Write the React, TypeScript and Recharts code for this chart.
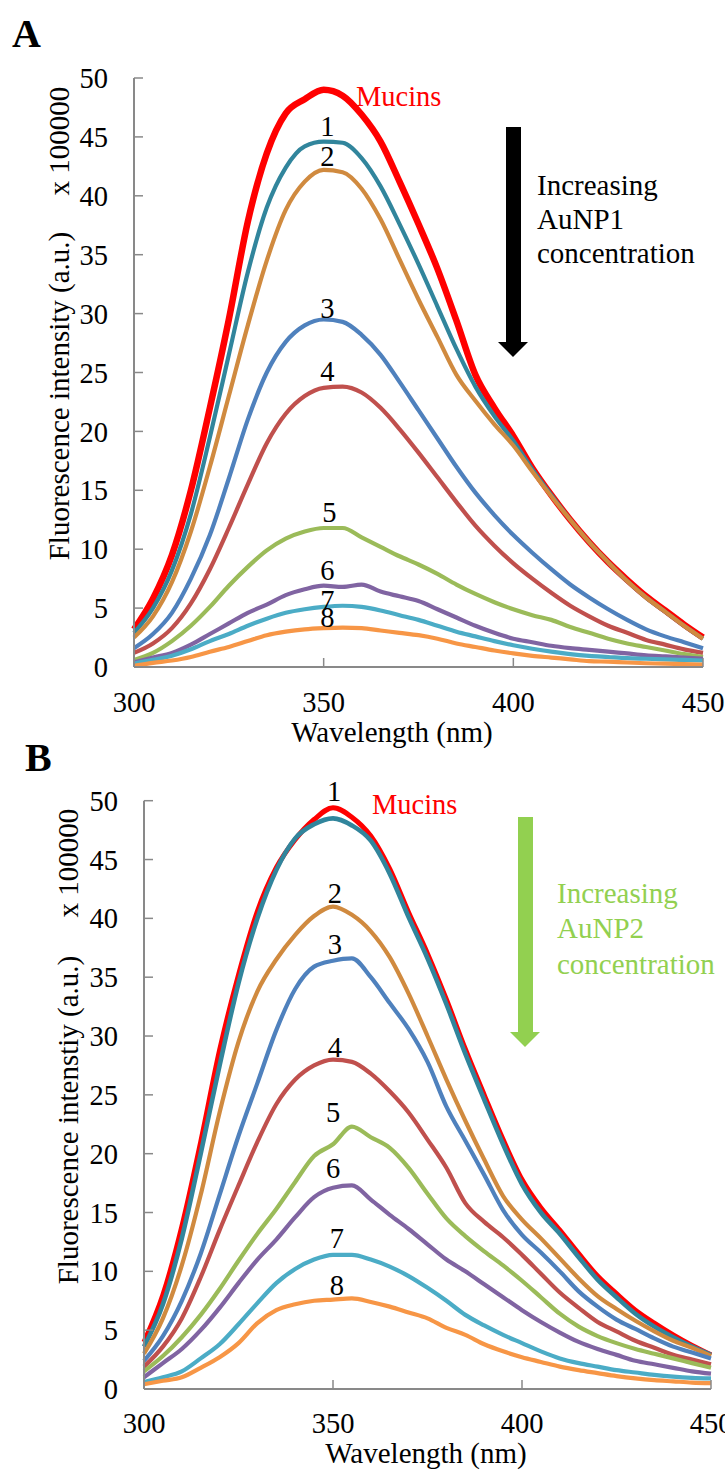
import { LineChart, Line, XAxis, YAxis, ReferenceDot } from 'recharts';

const FONT = '"Liberation Serif", "Times New Roman", serif';

// Shared x values (nm)
const wavelengths = [
  300, 305, 310, 315, 320, 325, 330, 335, 340, 345, 350, 355, 360, 365, 370, 375,
  380, 385, 390, 395, 400, 405, 410, 415, 420, 425, 430, 435, 440, 445, 450,
];
const yTicks = [0, 5, 10, 15, 20, 25, 30, 35, 40, 45, 50];
const xTicks = [300, 350, 400, 450];

// Panel A - AuNP1 titration (x 100000 a.u.)
const mucinsA = [3.2, 5.8, 9.5, 15.0, 22.0, 29.5, 37.8, 43.6, 47.0, 48.2, 49.0, 48.5, 46.9, 44.6, 41.2, 37.6, 33.8, 29.4, 24.8, 22.0, 19.6, 16.9, 14.6, 12.5, 10.6, 8.9, 7.4, 6.0, 4.8, 3.6, 2.5];
const a1 = [2.9, 5.0, 8.2, 13.0, 19.5, 26.5, 33.5, 39.0, 42.4, 44.2, 44.6, 44.5, 43.2, 40.8, 37.6, 34.2, 30.6, 27.0, 23.8, 21.3, 19.2, 16.8, 14.6, 12.5, 10.6, 8.9, 7.3, 5.9, 4.7, 3.5, 2.4];
const a2 = [2.5, 4.3, 7.2, 11.5, 17.0, 23.0, 29.0, 34.5, 38.8, 41.2, 42.2, 42.0, 40.6, 38.0, 34.6, 31.2, 28.0, 24.8, 22.6, 20.6, 18.8, 16.6, 14.5, 12.5, 10.6, 8.9, 7.3, 5.9, 4.7, 3.5, 2.4];
const a3 = [1.6, 2.8, 4.6, 7.5, 11.2, 16.0, 21.0, 25.0, 27.6, 29.0, 29.5, 29.3, 28.2, 26.5, 24.2, 21.8, 19.4, 17.0, 14.8, 12.9, 11.2, 9.7, 8.3, 7.0, 5.9, 4.9, 4.0, 3.2, 2.6, 2.1, 1.6];
const a4 = [1.2, 2.0, 3.3, 5.4, 8.3, 11.8, 15.5, 19.0, 21.5, 23.0, 23.7, 23.8, 23.3, 22.0, 20.2, 18.2, 16.1, 14.0, 12.0, 10.3, 8.8, 7.5, 6.3, 5.2, 4.3, 3.5, 2.9, 2.3, 1.9, 1.5, 1.2];
const a5 = [0.6, 1.2, 2.2, 3.5, 5.1, 6.9, 8.5, 9.9, 10.9, 11.5, 11.8, 11.8, 11.0, 10.2, 9.4, 8.7, 7.9, 7.0, 6.2, 5.5, 4.9, 4.4, 4.0, 3.4, 2.9, 2.4, 2.0, 1.7, 1.4, 1.1, 0.85];
const a6 = [0.4, 0.8, 1.2, 1.9, 2.8, 3.7, 4.6, 5.3, 6.1, 6.6, 6.9, 6.8, 7.0, 6.4, 6.0, 5.6, 4.9, 4.2, 3.5, 2.9, 2.4, 2.1, 1.8, 1.6, 1.45, 1.3, 1.15, 1.0, 0.9, 0.8, 0.7];
const a7 = [0.3, 0.6, 0.95, 1.5, 2.2, 2.8, 3.5, 4.1, 4.6, 4.9, 5.1, 5.2, 5.1, 4.8, 4.4, 4.0, 3.5, 3.0, 2.6, 2.2, 1.85, 1.55, 1.3, 1.1, 0.95, 0.85, 0.75, 0.7, 0.65, 0.6, 0.55];
const a8 = [0.1, 0.35, 0.55, 0.85, 1.3, 1.7, 2.2, 2.7, 3.0, 3.2, 3.3, 3.35, 3.3, 3.1, 2.9, 2.7, 2.4, 2.0, 1.7, 1.4, 1.15, 0.95, 0.8, 0.65, 0.5, 0.45, 0.38, 0.32, 0.28, 0.24, 0.2];

// Panel B - AuNP2 titration
const mucinsB = [4.0, 8.0, 13.8, 21.0, 28.8, 35.2, 40.6, 44.3, 46.7, 48.4, 49.4, 48.6, 47.0, 44.2, 40.5, 37.0, 33.1, 28.9, 25.0, 21.2, 17.8, 15.4, 13.5, 11.5, 9.6, 8.1, 6.7, 5.6, 4.6, 3.7, 2.9];
const b1 = [3.6, 7.2, 12.8, 20.0, 27.5, 34.5, 40.0, 44.1, 46.8, 48.0, 48.5, 47.9, 46.6, 43.8, 40.1, 36.6, 32.7, 28.5, 24.6, 20.8, 17.4, 15.0, 13.2, 11.2, 9.3, 7.8, 6.4, 5.3, 4.4, 3.6, 2.9];
const b2 = [3.0, 6.0, 10.5, 16.5, 23.5, 29.5, 33.8, 36.5, 38.6, 40.2, 41.0, 40.3, 38.9, 36.7, 33.6, 30.0, 26.3, 22.8, 19.5, 16.4, 14.4, 12.8, 11.1, 9.4, 7.9, 6.8, 5.8, 4.9, 4.1, 3.5, 2.8];
const b3 = [2.4, 4.5, 7.5, 11.5, 16.5, 21.5, 26.0, 30.5, 34.0, 35.9, 36.4, 36.6, 35.0, 32.8, 30.6, 27.8, 24.0, 21.1, 18.2, 15.2, 13.1, 11.6, 10.0, 8.3, 7.0, 5.9, 5.1, 4.3, 3.6, 3.1, 2.6];
const b4 = [1.9, 3.6, 6.0, 9.5, 13.5, 17.3, 21.0, 24.2, 26.3, 27.5, 28.0, 27.8, 26.8, 25.3, 23.5, 21.2, 18.8, 15.8, 14.2, 12.9, 11.4, 9.8, 8.2, 6.9, 5.7, 4.9, 4.1, 3.5, 2.9, 2.5, 2.1];
const b5 = [1.5, 2.8, 4.4, 6.3, 8.5, 10.9, 13.2, 15.3, 17.6, 19.8, 20.8, 22.3, 21.4, 20.5, 18.8, 16.6, 14.5, 13.0, 11.7, 10.5, 9.2, 7.8, 6.4, 5.3, 4.5, 3.9, 3.4, 3.0, 2.6, 2.2, 1.8];
const b6 = [1.0, 2.2, 3.4, 5.0, 6.9, 9.0, 11.0, 12.7, 14.6, 16.3, 17.1, 17.3, 16.1, 14.8, 13.6, 12.3, 11.0, 10.0, 8.9, 7.8, 6.7, 5.7, 4.8, 4.0, 3.4, 2.9, 2.4, 2.1, 1.8, 1.5, 1.3];
const b7 = [0.6, 1.0, 1.5, 2.6, 3.8, 5.5, 7.3, 9.0, 10.2, 11.0, 11.4, 11.4, 11.0, 10.4, 9.6, 8.6, 7.5, 6.3, 5.4, 4.6, 3.9, 3.2, 2.6, 2.2, 1.9, 1.6, 1.4, 1.2, 1.05, 0.95, 0.9];
const b8 = [0.4, 0.7, 1.0, 1.8, 2.7, 3.9, 5.6, 6.7, 7.2, 7.5, 7.6, 7.7, 7.4, 7.0, 6.5, 6.0, 5.2, 4.6, 3.8, 3.2, 2.7, 2.3, 1.9, 1.6, 1.35, 1.1, 0.9, 0.75, 0.65, 0.55, 0.5];

const seriesKeys = ['mucins', 's1', 's2', 's3', 's4', 's5', 's6', 's7', 's8'];
const colors = ['#ff0000', '#31859c', '#d08a3f', '#4f81bd', '#c0504d', '#9bbb59', '#8064a2', '#4bacc6', '#f79646'];

// curve tags, placed in data space
const tagsA = [
  { text: 'Mucins', x: 358.5, y: 47.6, color: '#ff0000', anchor: 'start' },
  { text: '1', x: 351, y: 45.1 },
  { text: '2', x: 351, y: 42.5 },
  { text: '3', x: 351, y: 29.6 },
  { text: '4', x: 351, y: 24.3 },
  { text: '5', x: 351.5, y: 12.3 },
  { text: '6', x: 351, y: 7.4 },
  { text: '7', x: 351, y: 4.8 },
  { text: '8', x: 351, y: 3.4 },
];
const tagsB = [
  { text: 'Mucins', x: 360.3, y: 48.9, color: '#ff0000', anchor: 'start' },
  { text: '1', x: 350.3, y: 50.0 },
  { text: '2', x: 350.5, y: 41.3 },
  { text: '3', x: 350.5, y: 37.0 },
  { text: '4', x: 350.5, y: 28.2 },
  { text: '5', x: 350, y: 22.7 },
  { text: '6', x: 350, y: 17.9 },
  { text: '7', x: 351, y: 12.0 },
  { text: '8', x: 351, y: 8.0 },
];

const buildRows = (series: number[][]) =>
  wavelengths.map((w, i) => {
    const row: Record<string, number> = { w };
    series.forEach((s, k) => {
      row[seriesKeys[k]] = s[i];
    });
    return row;
  });

const rowsA = buildRows([mucinsA, a1, a2, a3, a4, a5, a6, a7, a8]);
const rowsB = buildRows([mucinsB, b1, b2, b3, b4, b5, b6, b7, b8]);

const axisGrey = '#898989';
const tickStyle = { fill: '#000', fontSize: 28.5, fontFamily: FONT };

interface PanelProps {
  data: Record<string, number>[];
  tags: { text: string; x: number; y: number; color?: string; anchor?: string }[];
  top: number;
  height: number;
  plotTop: number;
  plotLeft: number;
  plotRight: number;
  xAxisHeight: number;
  xTickMargin: number;
  widths: number[];
}

const Panel = ({ data, tags, top, height, plotTop, plotLeft, plotRight, xAxisHeight, xTickMargin, widths }: PanelProps) => (
  <div style={{ position: 'absolute', left: 0, top }}>
    <LineChart
      width={725}
      height={height}
      data={data}
      margin={{ top: plotTop, right: 725 - plotRight, bottom: 0, left: 0 }}
    >
      <XAxis
        dataKey="w"
        type="number"
        domain={[300, 450]}
        ticks={xTicks}
        interval={0}
        height={xAxisHeight}
        tickSize={-9}
        tickMargin={xTickMargin}
        axisLine={{ stroke: axisGrey, strokeWidth: 2 }}
        tickLine={{ stroke: axisGrey, strokeWidth: 1.5 }}
        tick={tickStyle}
      />
      <YAxis
        type="number"
        domain={[0, 50]}
        ticks={yTicks}
        interval={0}
        width={plotLeft}
        tickSize={-9}
        tickMargin={35}
        axisLine={{ stroke: axisGrey, strokeWidth: 2 }}
        tickLine={{ stroke: axisGrey, strokeWidth: 1.5 }}
        tick={tickStyle}
      />
      {seriesKeys.map((k, i) => (
        <Line
          key={k}
          dataKey={k}
          type="monotone"
          stroke={colors[i]}
          strokeWidth={widths[i]}
          strokeLinejoin="round"
          dot={false}
          activeDot={false}
          isAnimationActive={false}
        />
      ))}
      {tags.map((t) => (
        <ReferenceDot
          key={t.text}
          x={t.x}
          y={t.y}
          r={1}
          ifOverflow="visible"
          shape={(p: any) => (
            <text
              x={p.cx}
              y={p.cy}
              textAnchor={t.anchor ?? 'middle'}
              fill={t.color ?? '#000'}
              fontSize={28.5}
              fontFamily={FONT}
            >
              {t.text}
            </text>
          )}
        />
      ))}
    </LineChart>
  </div>
);

const textStyle = { fontFamily: FONT, fontSize: 29 };

export default function App() {
  return (
    <div style={{ position: 'absolute', left: 0, top: 0, width: 725, height: 1473, background: '#fff', overflow: 'hidden' }}>
      <Panel
        data={rowsA}
        tags={tagsA}
        top={0}
        height={760}
        plotTop={78}
        plotLeft={134}
        plotRight={703}
        xAxisHeight={93}
        xTickMargin={34}
        widths={[6.5, 4.2, 4.2, 4.2, 4.2, 4.2, 4.2, 4.2, 4.2]}
      />
      <Panel
        data={rowsB}
        tags={tagsB}
        top={740}
        height={733}
        plotTop={60.7}
        plotLeft={144}
        plotRight={711}
        xAxisHeight={84}
        xTickMargin={33}
        widths={[5, 4.6, 4.2, 4.2, 4.2, 4.2, 4.2, 4.2, 4.2]}
      />
      <svg width={725} height={1473} style={{ position: 'absolute', left: 0, top: 0, pointerEvents: 'none' }}>
        {/* panel letters */}
        <text x={12} y={47} fontFamily={FONT} fontSize={40} fontWeight="bold">A</text>
        <text x={25} y={771} fontFamily={FONT} fontSize={40} fontWeight="bold">B</text>

        {/* axis titles, panel A */}
        <text {...textStyle} transform="translate(69,396) rotate(-90)" textAnchor="middle">Fluorescence intensity (a.u.)</text>
        <text {...textStyle} transform="translate(69,141) rotate(-90)" textAnchor="middle">x 100000</text>
        <text {...textStyle} x={392} y={742} textAnchor="middle">Wavelength (nm)</text>

        {/* axis titles, panel B */}
        <text {...textStyle} transform="translate(78,1120) rotate(-90)" textAnchor="middle">Fluorescence intenstiy (a.u.)</text>
        <text {...textStyle} transform="translate(78,863) rotate(-90)" textAnchor="middle">x 100000</text>
        <text {...textStyle} x={426} y={1463} textAnchor="middle">Wavelength (nm)</text>

        {/* arrow + note, panel A */}
        <rect x={506} y={127} width={15} height={216} fill="#000" />
        <polygon points="498,342 528,342 513,357" fill="#000" />
        <text {...textStyle} x={537} y={195}>Increasing</text>
        <text {...textStyle} x={537} y={229}>AuNP1</text>
        <text {...textStyle} x={537} y={263}>concentration</text>

        {/* arrow + note, panel B */}
        <rect x={518} y={817} width={15} height={216} fill="#92d050" />
        <polygon points="510,1032 540,1032 525,1047" fill="#92d050" />
        <text {...textStyle} fill="#92d050" x={557} y={903}>Increasing</text>
        <text {...textStyle} fill="#92d050" x={557} y={938}>AuNP2</text>
        <text {...textStyle} fill="#92d050" x={557} y={974}>concentration</text>
      </svg>
    </div>
  );
}
